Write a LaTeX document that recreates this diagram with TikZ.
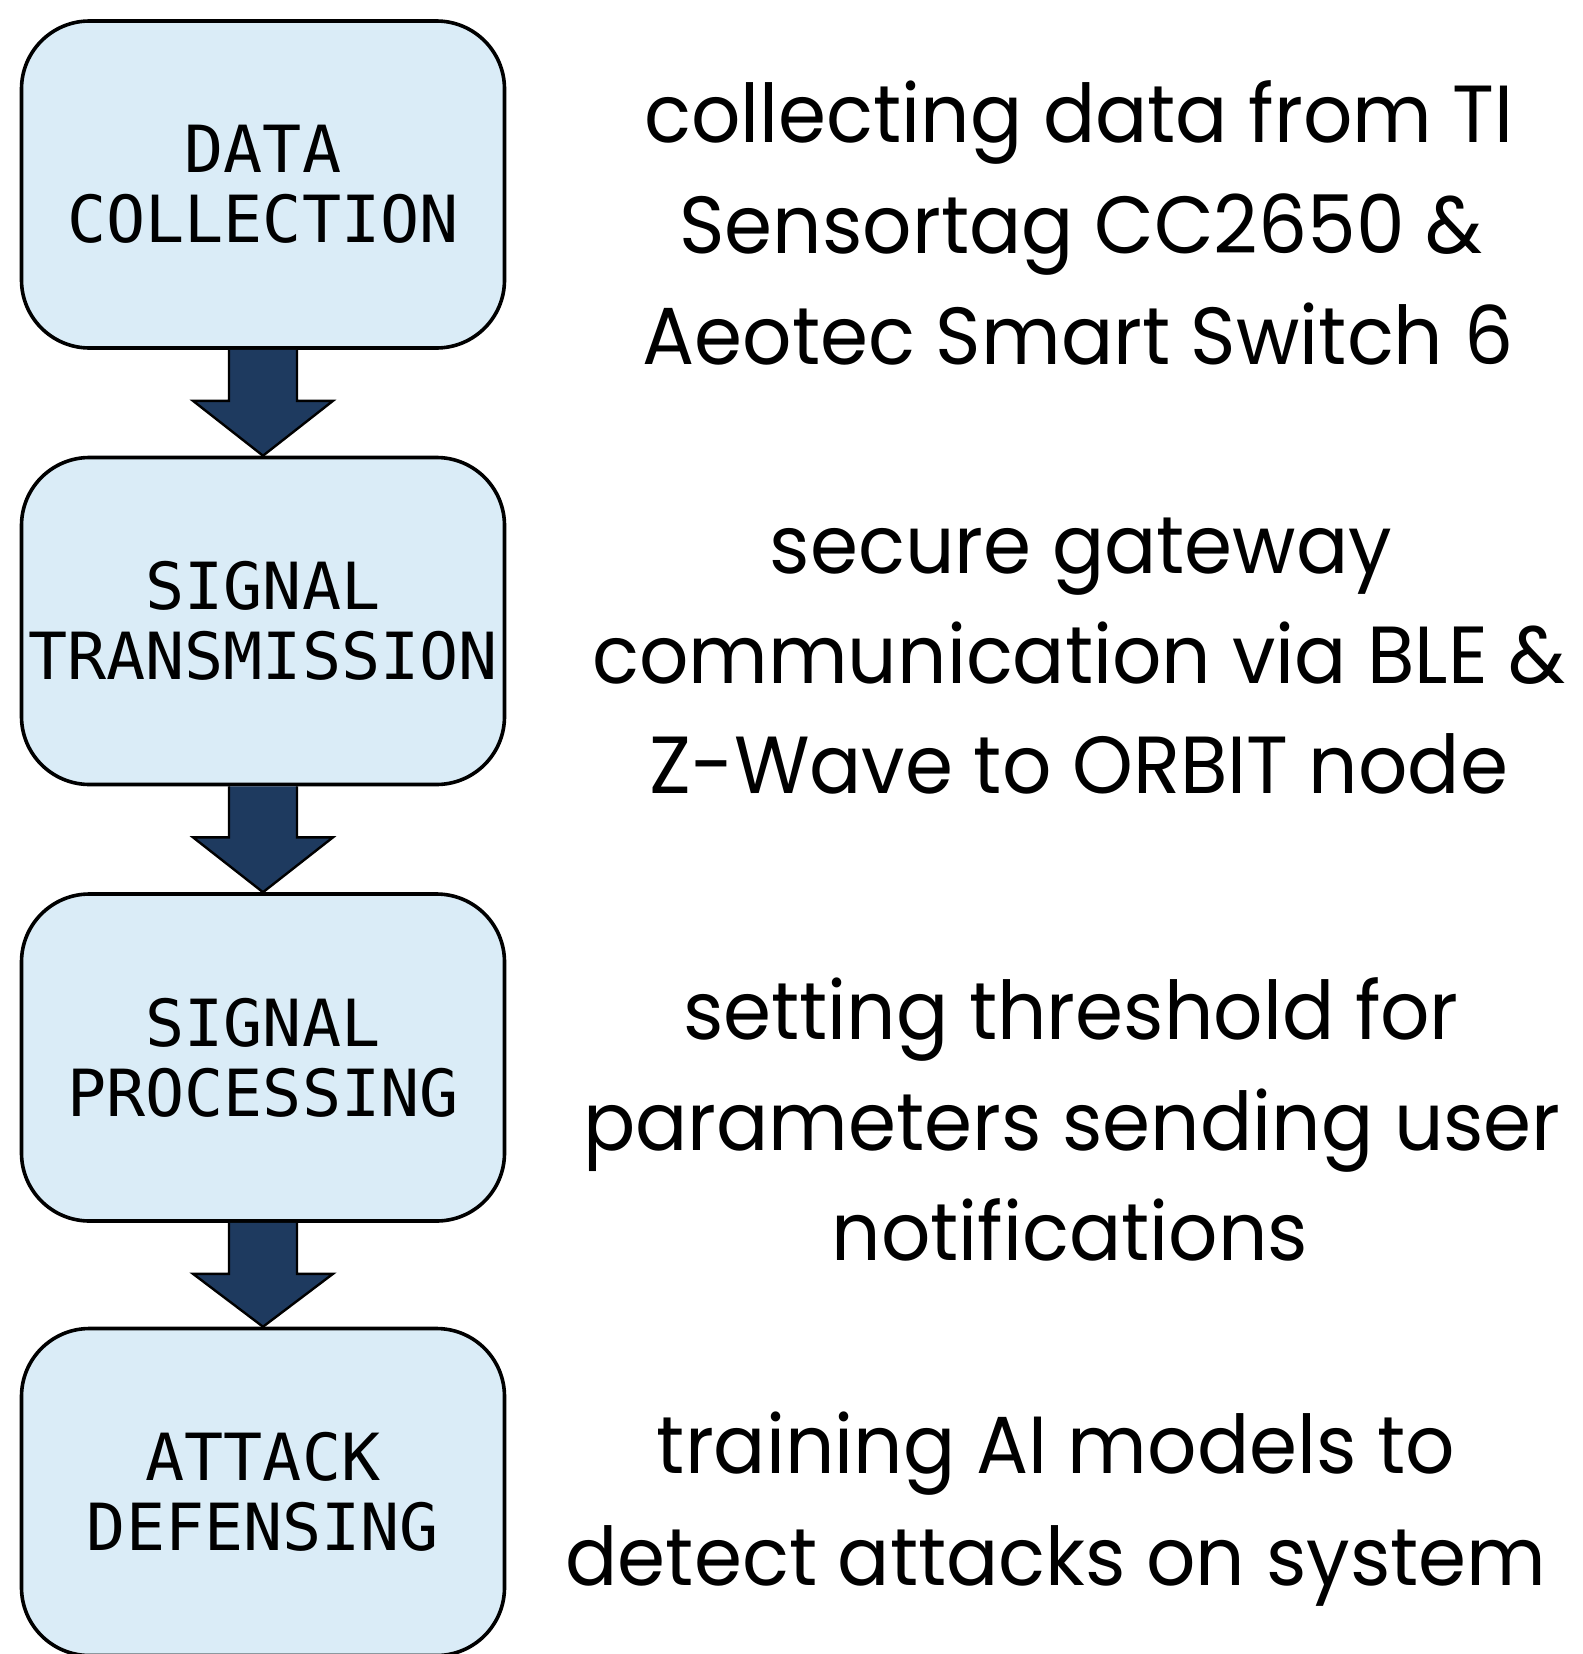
\documentclass[tikz,border=0pt]{standalone}
\usepackage{fontspec}
\setmainfont[FakeStretch=0.955]{Poppins}
\newfontfamily\monofont{DejaVu Sans Mono}
\usetikzlibrary{calc}
\definecolor{boxfill}{HTML}{DAECF7}
\definecolor{arrowfill}{HTML}{1E3A5F}
\begin{document}
\begin{tikzpicture}[x=0.5pt,y=-0.5pt,
  stage/.style={draw=black, line width=1.8pt, fill=boxfill, rounded corners=34pt,
    minimum width=241.5pt, minimum height=163.5pt, align=center, inner sep=0pt,
    font=\monofont\fontsize{32.5}{35}\selectfont},
  desc/.style={anchor=base, inner sep=0pt, font=\fontsize{40.5}{44}\selectfont},
  flow/.style={fill=arrowfill, draw=black, line width=1.2pt, line join=miter}]
\fill[white] (0,0) rectangle (1583,1654);
\useasboundingbox (0,0) rectangle (1583,1654);
\node[stage] (b1) at (263,184.5) {DATA\\COLLECTION};
\node[stage] (b2) at (263,621) {SIGNAL\\TRANSMISSION};
\node[stage] (b3) at (263,1057.5) {SIGNAL\\PROCESSING};
\node[stage] (b4) at (263,1492) {ATTACK\\DEFENSING};
\foreach \a/\b in {b1/b2,b2/b3,b3/b4}{
  \draw[flow] ($(\a.south)+(-34,0)$) -- ($(\a.south)+(-34,51)$) -- ($(\a.south)+(-70,51)$)
    -- (\b.north) -- ($(\a.south)+(70,51)$) -- ($(\a.south)+(34,51)$) -- ($(\a.south)+(34,0)$);
}
\node[desc] (d1a) at (1079,142) {collecting data from TI};
\node[desc] (d1b) at (1081,253) {Sensortag CC2650 \&};
\node[desc] (d1c) at (1078,364) {Aeotec Smart Switch 6};
\node[desc] (d2a) at (1081,573) {secure gateway};
\node[desc] (d2b) at (1079,683) {communication via BLE \&};
\node[desc] (d2c) at (1079,793) {Z-Wave to ORBIT node};
\node[desc] (d3a) at (1071,1039) {setting threshold for};
\node[desc] (d3b) at (1072,1150) {parameters sending user};
\node[desc] (d3c) at (1070,1260) {notifications};
\node[desc] (d4a) at (1056,1473) {training AI models to};
\node[desc] (d4b) at (1056,1585) {detect attacks on system};
\end{tikzpicture}
\end{document}
